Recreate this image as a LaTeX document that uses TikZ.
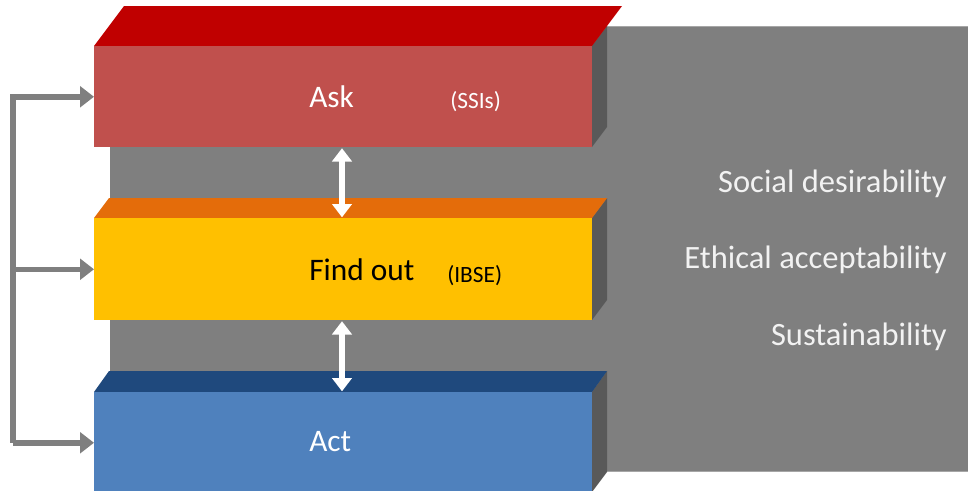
\documentclass[tikz,border=0pt]{standalone}
\usepackage{fontspec}
\setmainfont{Carlito}
\usetikzlibrary{arrows.meta}
\definecolor{askfront}{HTML}{C0504D}
\definecolor{asktop}{HTML}{C00000}
\definecolor{findfront}{HTML}{FFC000}
\definecolor{findtop}{HTML}{E46C0A}
\definecolor{actfront}{HTML}{4F81BD}
\definecolor{acttop}{HTML}{1F497D}
\definecolor{sideface}{HTML}{595959}
\definecolor{panelgray}{HTML}{7F7F7F}
\definecolor{paneledge}{HTML}{A6A6A6}
\tikzset{
  front/.style={draw=none, minimum width=373.5pt, minimum height=75.75pt, anchor=north west, inner sep=0pt},
  bigtext/.style={font=\fontsize{23.5}{28}\selectfont, anchor=base west, inner sep=0pt},
  smalltext/.style={font=\fontsize{17.5}{21}\selectfont, anchor=base west, inner sep=0pt},
  righttext/.style={font=\fontsize{24.4}{29}\selectfont, anchor=base east, inner sep=0pt, text=white!95!black},
  garrow/.style={draw=panelgray, line width=4.1pt, line join=miter, -{Triangle[length=10.5pt, width=15.5pt]}},
  warrow/.style={draw=white, line width=4.5pt, {Triangle[length=10pt, width=14.5pt]}-{Triangle[length=10pt, width=14.5pt]}, shorten <=0.5pt, shorten >=0.5pt}
}
\begin{document}
\begin{tikzpicture}[x=0.75pt, y=-0.75pt]
\useasboundingbox (0,0) rectangle (968,490);
\clip (0,0) rectangle (968,490);
% background panel
\fill[panelgray] (110,26) rectangle (968,472);
\draw[paneledge, line width=0.6pt] (607,26.3) -- (968,26.3);
\draw[paneledge, line width=0.6pt] (607,471.7) -- (968,471.7);
% side faces
\fill[sideface] (592,46) -- (607,26) -- (607,127) -- (592,147) -- cycle;
\fill[sideface] (592,218) -- (607,198) -- (607,300) -- (592,320) -- cycle;
\fill[sideface] (592,392) -- (607,371) -- (607,472) -- (592,492) -- cycle;
% top faces
\fill[asktop] (94,46) -- (124,6) -- (622,6) -- (592,46) -- cycle;
\fill[findtop] (94,218) -- (109,198) -- (607,198) -- (592,218) -- cycle;
\fill[acttop] (94,392) -- (109,371) -- (607,371) -- (592,392) -- cycle;
% front faces
\node[front, fill=askfront] (ask) at (94,46) {};
\node[front, fill=findfront, minimum height=76.5pt] (find) at (94,218) {};
\node[front, fill=actfront] (act) at (94,392) {};
% texts in boxes
\node[bigtext, text=white] (asklbl) at (309,107) {Ask};
\node[smalltext, text=white] (ssis) at (450,108) {(SSIs)};
\node[bigtext, text=black] (findlbl) at (309,280) {Find out};
\node[smalltext, text=black] (ibse) at (447,282) {(IBSE)};
\node[bigtext, text=white] (actlbl) at (309,451) {Act};
% right texts
\node[righttext] (soc) at (947,192) {Social desirability};
\node[righttext] (eth) at (947,268) {Ethical acceptability};
\node[righttext] (sus) at (947,345) {Sustainability};
% white double arrows
\coordinate (wx) at (342,0);
\draw[warrow] (wx |- ask.south) -- (wx |- find.north);
\draw[warrow] (wx |- find.south) -- (wx |- act.north);
% left feedback arrows
\coordinate (lx) at (13,0);
\draw[garrow] (lx |- act.west) -- (lx |- ask.west) -- (ask.west);
\draw[garrow] (lx |- find.west) -- (find.west);
\draw[garrow] (lx |- act.west) -- (act.west);
\end{tikzpicture}
\end{document}
